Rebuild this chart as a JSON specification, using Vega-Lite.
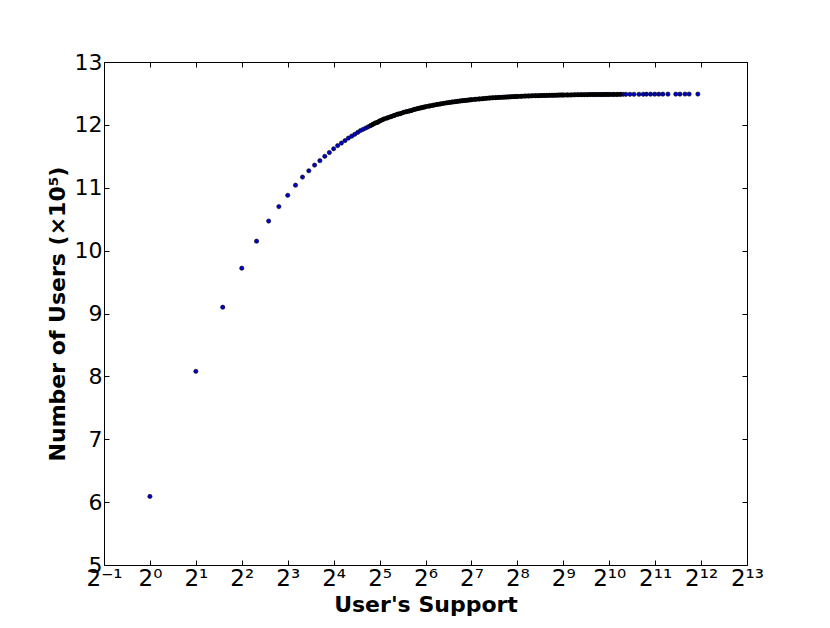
{
  "$schema": "https://vega.github.io/schema/vega-lite/v6.json",
  "width": 643,
  "height": 503,
  "autosize": "none",
  "padding": {"left": 104, "top": 62, "right": 83, "bottom": 63},
  "background": "white",
  "config": {
    "view": {"stroke": "black", "strokeWidth": 1},
    "font": "DejaVu Sans",
    "axis": {"grid": false, "domain": false, "tickColor": "black", "labelColor": "black", "titleColor": "black", "labelFont": "DejaVu Sans", "titleFont": "DejaVu Sans"}
  },
  "data": {"values": [
    {"support": 1, "users": 6.09},
    {"support": 2, "users": 8.08},
    {"support": 3, "users": 9.10},
    {"support": 4, "users": 9.72},
    {"support": 5, "users": 10.15},
    {"support": 6, "users": 10.47},
    {"support": 7, "users": 10.70},
    {"support": 8, "users": 10.88},
    {"support": 9, "users": 11.04},
    {"support": 10, "users": 11.17},
    {"support": 11, "users": 11.27},
    {"support": 12, "users": 11.36},
    {"support": 13, "users": 11.43},
    {"support": 14, "users": 11.50},
    {"support": 15, "users": 11.56},
    {"support": 16, "users": 11.62},
    {"support": 17, "users": 11.67},
    {"support": 18, "users": 11.71},
    {"support": 19, "users": 11.75},
    {"support": 20, "users": 11.79},
    {"support": 21, "users": 11.82},
    {"support": 22, "users": 11.85},
    {"support": 23, "users": 11.88},
    {"support": 24, "users": 11.91},
    {"support": 25, "users": 11.93},
    {"support": 26, "users": 11.95},
    {"support": 27, "users": 11.97},
    {"support": 28, "users": 11.99},
    {"support": 29, "users": 12.01},
    {"support": 30, "users": 12.03},
    {"support": 31, "users": 12.04},
    {"support": 32, "users": 12.06},
    {"support": 34, "users": 12.09},
    {"support": 36, "users": 12.11},
    {"support": 38, "users": 12.13},
    {"support": 40, "users": 12.15},
    {"support": 42, "users": 12.17},
    {"support": 44, "users": 12.18},
    {"support": 46, "users": 12.20},
    {"support": 48, "users": 12.21},
    {"support": 50, "users": 12.22},
    {"support": 52, "users": 12.23},
    {"support": 54, "users": 12.245},
    {"support": 56, "users": 12.255},
    {"support": 58, "users": 12.264},
    {"support": 60, "users": 12.272},
    {"support": 62, "users": 12.28},
    {"support": 64, "users": 12.288},
    {"support": 68, "users": 12.301},
    {"support": 72, "users": 12.313},
    {"support": 76, "users": 12.324},
    {"support": 80, "users": 12.333},
    {"support": 84, "users": 12.342},
    {"support": 88, "users": 12.35},
    {"support": 92, "users": 12.357},
    {"support": 96, "users": 12.364},
    {"support": 100, "users": 12.369},
    {"support": 104, "users": 12.375},
    {"support": 108, "users": 12.38},
    {"support": 112, "users": 12.385},
    {"support": 116, "users": 12.389},
    {"support": 120, "users": 12.393},
    {"support": 124, "users": 12.397},
    {"support": 128, "users": 12.40},
    {"support": 136, "users": 12.407},
    {"support": 144, "users": 12.412},
    {"support": 152, "users": 12.417},
    {"support": 160, "users": 12.422},
    {"support": 168, "users": 12.426},
    {"support": 176, "users": 12.43},
    {"support": 184, "users": 12.433},
    {"support": 192, "users": 12.436},
    {"support": 200, "users": 12.438},
    {"support": 208, "users": 12.441},
    {"support": 216, "users": 12.443},
    {"support": 224, "users": 12.445},
    {"support": 232, "users": 12.447},
    {"support": 240, "users": 12.449},
    {"support": 248, "users": 12.451},
    {"support": 256, "users": 12.452},
    {"support": 272, "users": 12.455},
    {"support": 288, "users": 12.458},
    {"support": 304, "users": 12.46},
    {"support": 320, "users": 12.462},
    {"support": 336, "users": 12.464},
    {"support": 352, "users": 12.465},
    {"support": 368, "users": 12.467},
    {"support": 384, "users": 12.468},
    {"support": 400, "users": 12.469},
    {"support": 416, "users": 12.47},
    {"support": 432, "users": 12.471},
    {"support": 448, "users": 12.472},
    {"support": 464, "users": 12.473},
    {"support": 480, "users": 12.474},
    {"support": 496, "users": 12.474},
    {"support": 512, "users": 12.475},
    {"support": 544, "users": 12.476},
    {"support": 576, "users": 12.477},
    {"support": 608, "users": 12.478},
    {"support": 640, "users": 12.479},
    {"support": 672, "users": 12.48},
    {"support": 704, "users": 12.48},
    {"support": 736, "users": 12.481},
    {"support": 768, "users": 12.482},
    {"support": 800, "users": 12.482},
    {"support": 832, "users": 12.482},
    {"support": 864, "users": 12.483},
    {"support": 896, "users": 12.483},
    {"support": 928, "users": 12.483},
    {"support": 960, "users": 12.484},
    {"support": 992, "users": 12.484},
    {"support": 1024, "users": 12.484},
    {"support": 1088, "users": 12.485},
    {"support": 1152, "users": 12.485},
    {"support": 1216, "users": 12.486},
    {"support": 1264, "users": 12.486},
    {"support": 1318, "users": 12.486},
    {"support": 1400, "users": 12.486},
    {"support": 1488, "users": 12.487},
    {"support": 1604, "users": 12.487},
    {"support": 1710, "users": 12.487},
    {"support": 1795, "users": 12.488},
    {"support": 1911, "users": 12.488},
    {"support": 2035, "users": 12.488},
    {"support": 2165, "users": 12.488},
    {"support": 2300, "users": 12.489},
    {"support": 2483, "users": 12.489},
    {"support": 2797, "users": 12.489},
    {"support": 2977, "users": 12.489},
    {"support": 3213, "users": 12.49},
    {"support": 3422, "users": 12.49},
    {"support": 3903, "users": 12.49}
  ]},
  "resolve": {"axis": {"x": "independent", "y": "independent"}},
  "layer": [
    {
      "mark": {"type": "point", "filled": true, "fill": "#0000cc", "stroke": "black", "strokeWidth": 0.6, "size": 18, "opacity": 1},
      "encoding": {
        "x": {
          "field": "support", "type": "quantitative",
          "scale": {"type": "log", "base": 2, "domain": [0.5, 8192], "nice": false},
          "axis": {
            "orient": "bottom",
            "values": [0.5, 1, 2, 4, 8, 16, 32, 64, 128, 256, 512, 1024, 2048, 4096, 8192],
            "labelExpr": "['2⁻¹','2⁰','2¹','2²','2³','2⁴','2⁵','2⁶','2⁷','2⁸','2⁹','2¹⁰','2¹¹','2¹²','2¹³'][round(log(datum.value)/LN2)+1]",
            "labelFontSize": 23,
            "labelPadding": 7,
            "labelFlush": false,
            "labelOverlap": false,
            "tickSize": -5,
            "title": "User's Support",
            "titleFontSize": 22,
            "titleFontWeight": "bold",
            "titleY": 46,
            "titleBaseline": "alphabetic"
          }
        },
        "y": {
          "field": "users", "type": "quantitative",
          "scale": {"domain": [5, 13], "nice": false, "zero": false},
          "axis": {
            "orient": "left",
            "values": [5, 6, 7, 8, 9, 10, 11, 12, 13],
            "labelFontSize": 22,
            "labelPadding": 7,
            "labelFlush": false,
            "labelOverlap": false,
            "tickSize": -5,
            "title": "Number of Users (×10⁵)",
            "titleFontSize": 22,
            "titleFontWeight": "bold",
            "titleX": -47,
            "titleY": 251.5,
            "titleAngle": -90,
            "titleAlign": "center",
            "titleBaseline": "middle"
          }
        }
      }
    },
    {
      "transform": [{"filter": "datum.support >= 28 && datum.support <= 1216"}],
      "mark": {"type": "line", "color": "black", "strokeWidth": 4.5, "strokeCap": "round"},
      "encoding": {
        "x": {"field": "support", "type": "quantitative", "axis": null},
        "y": {"field": "users", "type": "quantitative", "axis": null}
      }
    },
    {
      "mark": {"type": "point", "opacity": 0},
      "encoding": {
        "x": {
          "field": "support", "type": "quantitative",
          "scale": {"type": "log", "base": 2, "domain": [0.5, 8192], "nice": false},
          "axis": {"orient": "top", "values": [0.5, 1, 2, 4, 8, 16, 32, 64, 128, 256, 512, 1024, 2048, 4096, 8192], "labels": false, "tickSize": -5, "title": null}
        },
        "y": {
          "field": "users", "type": "quantitative",
          "scale": {"domain": [5, 13], "nice": false, "zero": false},
          "axis": {"orient": "right", "values": [5, 6, 7, 8, 9, 10, 11, 12, 13], "labels": false, "tickSize": -5, "title": null}
        }
      }
    }
  ]
}
